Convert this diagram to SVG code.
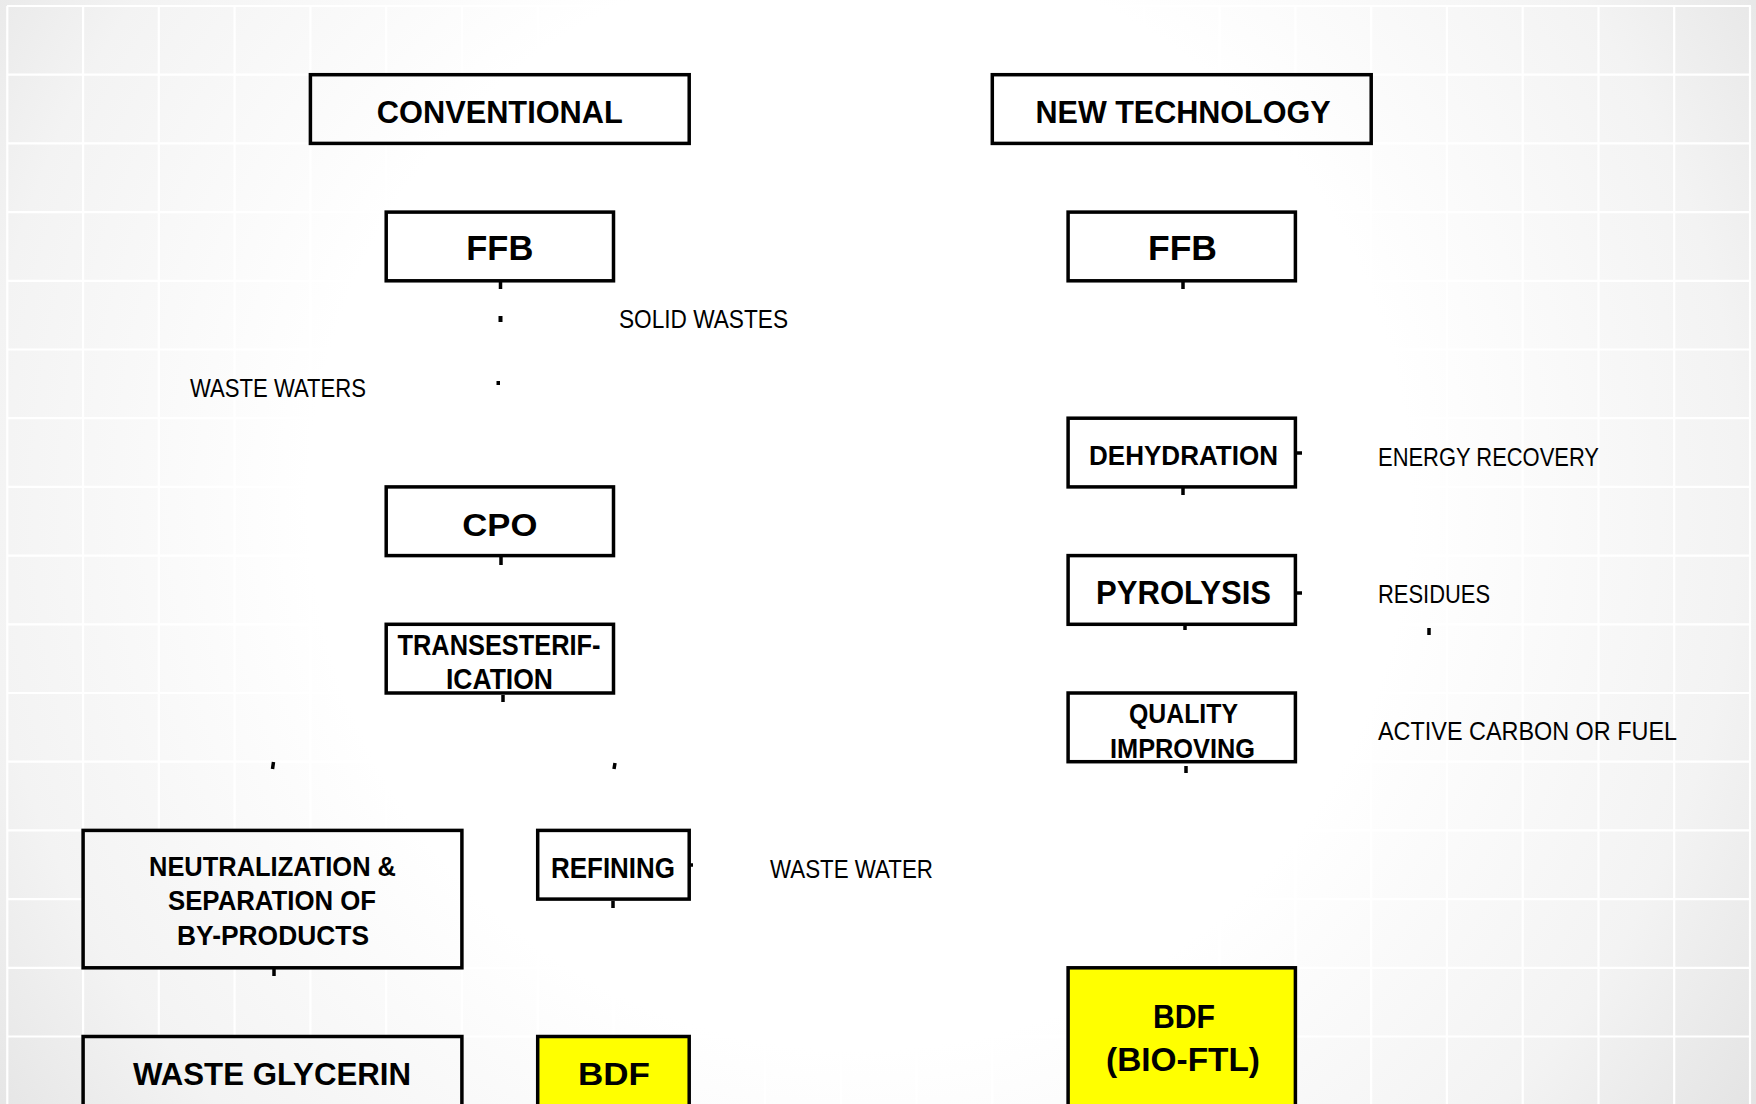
<svg xmlns="http://www.w3.org/2000/svg" width="1756" height="1104" viewBox="0 0 1756 1104">
<defs>
<radialGradient id="bg" gradientUnits="userSpaceOnUse" cx="860" cy="500" r="1100">
<stop offset="0" stop-color="#ffffff"/>
<stop offset="0.5" stop-color="#ffffff"/>
<stop offset="0.8" stop-color="#f3f3f3"/>
<stop offset="1" stop-color="#e2e2e2"/>
</radialGradient>
<style>
.box{fill:url(#bg);stroke:#000;stroke-width:3.5}
.hl{fill:#ffff00;stroke:#000;stroke-width:3.5}
.t{font-family:"Liberation Sans",Arial,sans-serif;font-weight:bold;fill:#000;text-anchor:middle}
.lb{font-family:"Liberation Sans",Arial,sans-serif;font-size:26px;fill:#000}
.grid{stroke:#ffffff;stroke-width:2.2;fill:none}
.tick{stroke:#000;stroke-width:3.5;fill:none}
</style>
</defs>
<rect x="0" y="0" width="1756" height="1104" fill="url(#bg)"/>
<path class="grid" d="M7.3 6V1104M83.1 6V1104M158.8 6V1104M234.6 6V1104M310.4 6V1104M386.2 6V1104M461.9 6V1104M537.7 6V1104M613.5 6V1104M689.2 6V1104M765 6V1104M840.8 6V1104M916.5 6V1104M992.3 6V1104M1068.1 6V1104M1143.9 6V1104M1219.6 6V1104M1295.4 6V1104M1371.2 6V1104M1446.9 6V1104M1522.7 6V1104M1598.5 6V1104M1674.2 6V1104M1750 6V1104M7 6H1751M7 74.7H1751M7 143.4H1751M7 212.1H1751M7 280.8H1751M7 349.5H1751M7 418.2H1751M7 486.9H1751M7 555.6H1751M7 624.3H1751M7 693H1751M7 761.7H1751M7 830.4H1751M7 899.1H1751M7 967.8H1751M7 1036.5H1751"/>

<g id="conventional">
<rect class="box" x="310.4" y="74.7" width="378.8" height="68.7"/>
<text class="t" x="499.8" y="123" font-size="32" textLength="246" lengthAdjust="spacingAndGlyphs">CONVENTIONAL</text>
</g>
<g id="new-technology">
<rect class="box" x="992.3" y="74.7" width="378.9" height="68.7"/>
<text class="t" x="1183" y="123" font-size="32" textLength="295" lengthAdjust="spacingAndGlyphs">NEW TECHNOLOGY</text>
</g>
<g id="ffb-left">
<rect class="box" x="386.2" y="212.1" width="227.3" height="68.7"/>
<text class="t" x="499.8" y="260" font-size="35" textLength="67" lengthAdjust="spacingAndGlyphs">FFB</text>
</g>
<g id="ffb-right">
<rect class="box" x="1068.1" y="212.1" width="227.3" height="68.7"/>
<text class="t" x="1182.5" y="260" font-size="35" textLength="69" lengthAdjust="spacingAndGlyphs">FFB</text>
</g>
<g id="cpo">
<rect class="box" x="386.2" y="486.9" width="227.3" height="68.7"/>
<text class="t" x="499.8" y="536" font-size="32" textLength="75" lengthAdjust="spacingAndGlyphs">CPO</text>
</g>
<g id="transesterification">
<rect class="box" x="386.2" y="624.3" width="227.3" height="68.7"/>
<text class="t" x="499" y="655" font-size="29" textLength="203" lengthAdjust="spacingAndGlyphs">TRANSESTERIF-</text>
<text class="t" x="499.5" y="689" font-size="29" textLength="107" lengthAdjust="spacingAndGlyphs">ICATION</text>
</g>
<g id="dehydration">
<rect class="box" x="1068.1" y="418.2" width="227.3" height="68.7"/>
<text class="t" x="1183.5" y="465" font-size="27" textLength="189" lengthAdjust="spacingAndGlyphs">DEHYDRATION</text>
</g>
<g id="pyrolysis">
<rect class="box" x="1068.1" y="555.6" width="227.3" height="68.7"/>
<text class="t" x="1183.5" y="604" font-size="33" textLength="175" lengthAdjust="spacingAndGlyphs">PYROLYSIS</text>
</g>
<g id="quality-improving">
<rect class="box" x="1068.1" y="693" width="227.3" height="68.7"/>
<text class="t" x="1183.5" y="723" font-size="27" textLength="109" lengthAdjust="spacingAndGlyphs">QUALITY</text>
<text class="t" x="1182.5" y="758" font-size="27" textLength="145" lengthAdjust="spacingAndGlyphs">IMPROVING</text>
</g>
<g id="neutralization">
<rect class="box" x="83.1" y="830.4" width="378.8" height="137.4"/>
<text class="t" x="272.5" y="876" font-size="27" textLength="247" lengthAdjust="spacingAndGlyphs">NEUTRALIZATION &amp;</text>
<text class="t" x="272" y="910" font-size="27" textLength="208" lengthAdjust="spacingAndGlyphs">SEPARATION OF</text>
<text class="t" x="273" y="945" font-size="27" textLength="192" lengthAdjust="spacingAndGlyphs">BY-PRODUCTS</text>
</g>
<g id="refining">
<rect class="box" x="537.7" y="830.4" width="151.5" height="68.7"/>
<text class="t" x="613" y="878" font-size="29" textLength="124" lengthAdjust="spacingAndGlyphs">REFINING</text>
</g>
<g id="waste-glycerin">
<rect class="box" x="83.1" y="1036.5" width="378.8" height="100"/>
<text class="t" x="272" y="1085" font-size="32" textLength="278" lengthAdjust="spacingAndGlyphs">WASTE GLYCERIN</text>
</g>
<g id="bdf-left">
<rect class="hl" x="537.7" y="1036.5" width="151.5" height="100"/>
<text class="t" x="614" y="1085" font-size="32" textLength="72" lengthAdjust="spacingAndGlyphs">BDF</text>
</g>
<g id="bdf-right">
<rect class="hl" x="1068.1" y="967.8" width="227.3" height="200"/>
<text class="t" x="1184" y="1028" font-size="33" textLength="62" lengthAdjust="spacingAndGlyphs">BDF</text>
<text class="t" x="1183" y="1071" font-size="33" textLength="154" lengthAdjust="spacingAndGlyphs">(BIO-FTL)</text>
</g>

<g id="labels">
<text class="lb" x="619" y="328" textLength="169" lengthAdjust="spacingAndGlyphs">SOLID WASTES</text>
<text class="lb" x="190" y="397" textLength="176" lengthAdjust="spacingAndGlyphs">WASTE WATERS</text>
<text class="lb" x="1378" y="466" textLength="221" lengthAdjust="spacingAndGlyphs">ENERGY RECOVERY</text>
<text class="lb" x="1378" y="603" textLength="112" lengthAdjust="spacingAndGlyphs">RESIDUES</text>
<text class="lb" x="1378" y="740" textLength="299" lengthAdjust="spacingAndGlyphs">ACTIVE CARBON OR FUEL</text>
<text class="lb" x="770" y="878" textLength="163" lengthAdjust="spacingAndGlyphs">WASTE WATER</text>
</g>

<g id="connectors">
<path class="tick" d="M500.5 282V289M1183 282V289M501 557V565M503 695V702M1183 488V495M1185 626V630M1186 766V773M274 969V976M613 901V908M1429 628V635"/>
<path class="tick" d="M1297 453H1302M1297 593H1302M689 865H693"/>
<rect x="498.5" y="316" width="4" height="6" fill="#000"/>
<rect x="496.5" y="381" width="3.5" height="4" fill="#000"/>
<path class="tick" d="M273.5 762L272.5 769M615 763L614 769"/>
</g>
</svg>
